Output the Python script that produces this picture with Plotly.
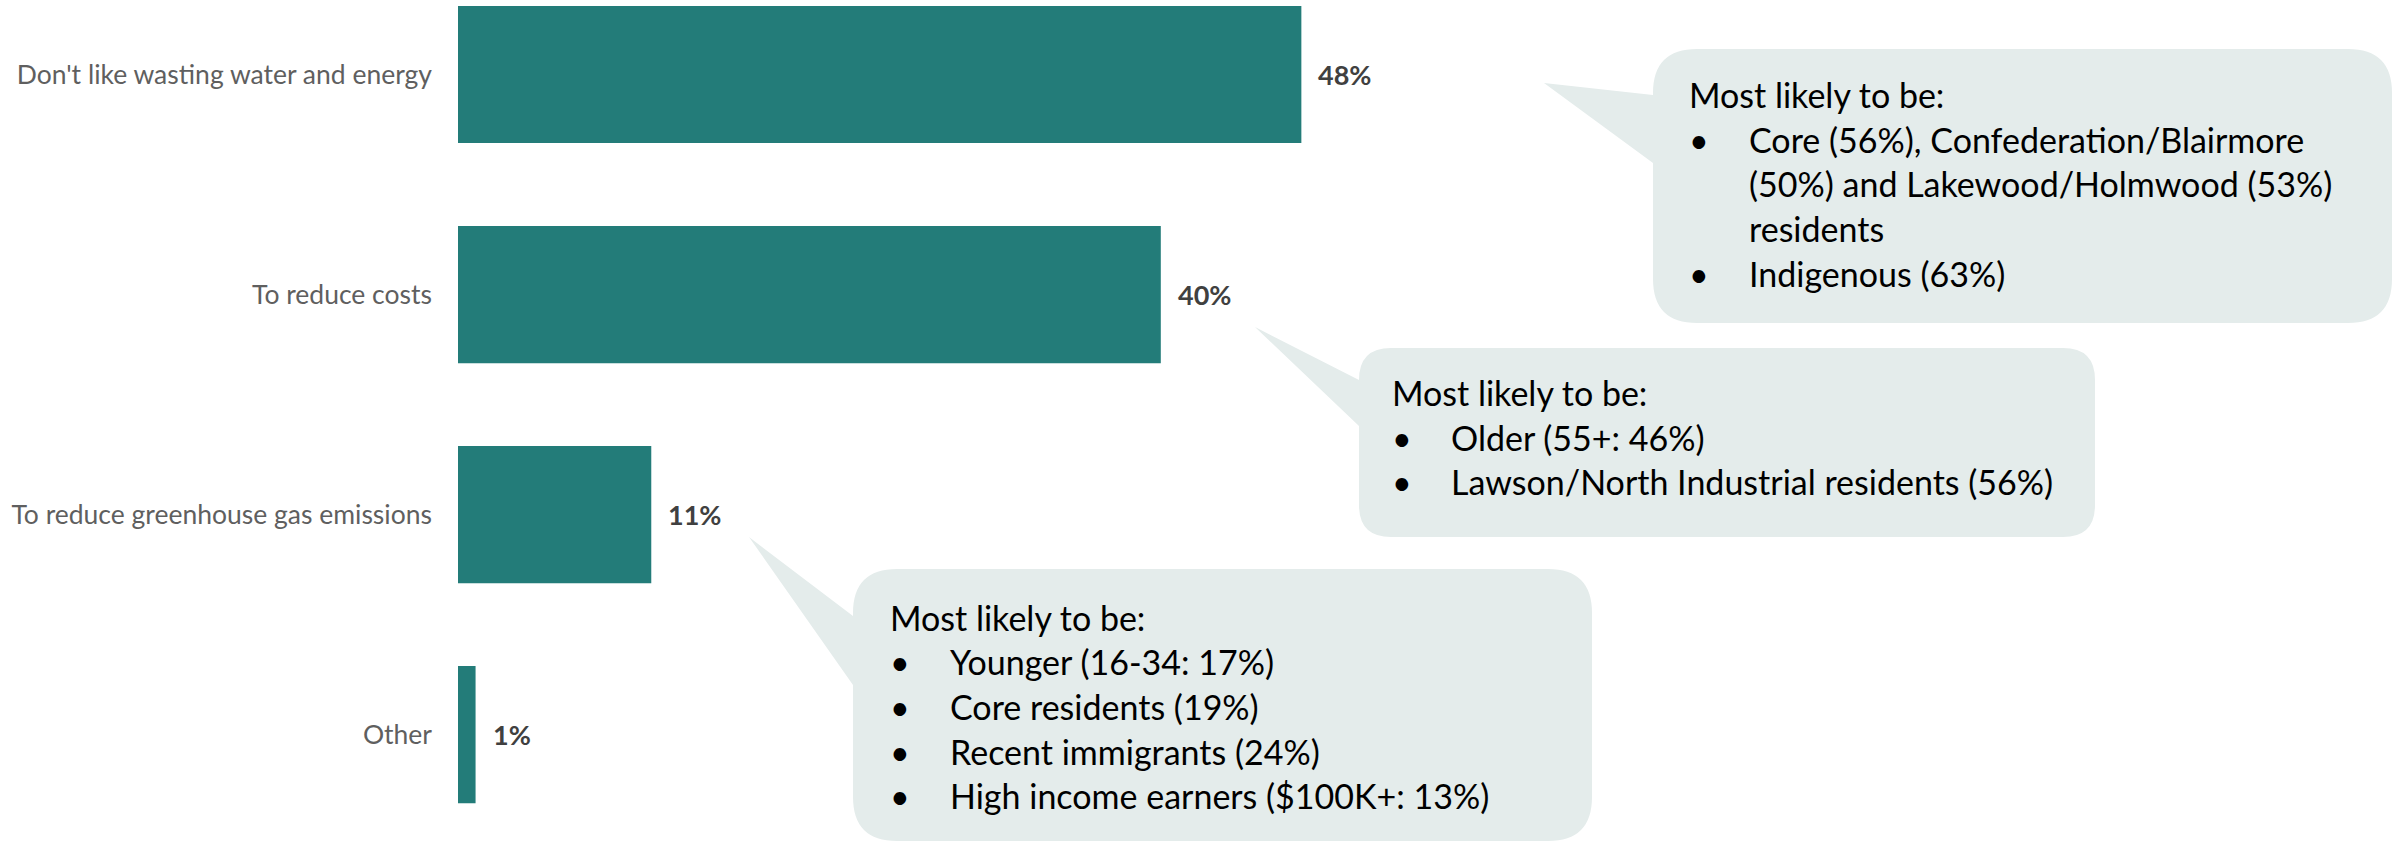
import plotly.graph_objects as go

# ---------------- data ----------------
categories = [
    "Don't like wasting water and energy",
    "To reduce costs",
    "To reduce greenhouse gas emissions",
    "Other",
]
values = [48, 40, 11, 1]
value_labels = ["48%", "40%", "11%", "1%"]

callout_heading = "Most likely to be:"
callout1_items = [
    ["Core (56%), Confederation/Blairmore", "(50%) and Lakewood/Holmwood (53%)", "residents"],
    ["Indigenous (63%)"],
]
callout2_items = [
    ["Older (55+: 46%)"],
    ["Lawson/North Industrial residents (56%)"],
]
callout3_items = [
    ["Younger (16-34: 17%)"],
    ["Core residents (19%)"],
    ["Recent immigrants (24%)"],
    ["High income earners ($100K+: 13%)"],
]

# ---------------- styling / layout ----------------
W, H = 2400, 842
PLOT_LEFT = 458
BAR_COLOR = "#237C79"
BUBBLE_COLOR = "#E4ECEB"
LABEL_COLOR = "#5F5F5F"
VALUE_COLOR = "#404040"
TEXT_FONT = "Lato"
LINE_STEP = 44.7


def px(x):
    return x / W


def py(y):
    return 1 - y / H


def bubble_path(box, tip, base, r):
    x0, y0, x1, y1 = box
    pts = []
    pts.append(f"M{px(x0 + r)},{py(y0)}")
    pts.append(f"L{px(x1 - r)},{py(y0)}")
    pts.append(f"Q{px(x1)},{py(y0)} {px(x1)},{py(y0 + r)}")
    pts.append(f"L{px(x1)},{py(y1 - r)}")
    pts.append(f"Q{px(x1)},{py(y1)} {px(x1 - r)},{py(y1)}")
    pts.append(f"L{px(x0 + r)},{py(y1)}")
    pts.append(f"Q{px(x0)},{py(y1)} {px(x0)},{py(y1 - r)}")
    pts.append(f"L{px(x0)},{py(base[1])}")
    pts.append(f"L{px(tip[0])},{py(tip[1])}")
    pts.append(f"L{px(x0)},{py(base[0])}")
    pts.append(f"L{px(x0)},{py(y0 + r)}")
    pts.append(f"Q{px(x0)},{py(y0)} {px(x0 + r)},{py(y0)}")
    pts.append("Z")
    return " ".join(pts)


callouts = [
    dict(box=(1653, 49, 2392, 323), tip=(1544, 83), base=(95, 163), r=44,
         text_x=1687, item_x=1747, first_y=94.5, items=callout1_items),
    dict(box=(1359, 348, 2095, 537), tip=(1255, 327), base=(380, 426), r=32,
         text_x=1390, item_x=1449, first_y=392.5, items=callout2_items),
    dict(box=(853, 569, 1592, 841), tip=(749, 537), base=(616, 685), r=44,
         text_x=888, item_x=948, first_y=617, items=callout3_items),
]

fig = go.Figure()
fig.add_trace(go.Bar(
    x=values,
    y=categories,
    orientation="h",
    marker=dict(color=BAR_COLOR, line=dict(width=0)),
    hoverinfo="skip",
))

annotations = []
for v, cat, lab in zip(values, categories, value_labels):
    annotations.append(dict(
        x=v, y=cat, xref="x", yref="y", text=lab, showarrow=False,
        xanchor="left", yanchor="middle", xshift=15,
        font=dict(family=TEXT_FONT, size=27, color=VALUE_COLOR, weight="bold"),
    ))

shapes = []
for c in callouts:
    shapes.append(dict(
        type="path", xref="paper", yref="paper",
        path=bubble_path(c["box"], c["tip"], c["base"], c["r"]),
        fillcolor=BUBBLE_COLOR, line=dict(width=0), layer="below",
    ))
    tfont = dict(family=TEXT_FONT, size=34, color="#000000")
    annotations.append(dict(
        x=px(c["text_x"]), y=py(c["first_y"]), xref="paper", yref="paper",
        text=callout_heading, showarrow=False, xanchor="left", yanchor="middle",
        font=tfont,
    ))
    line_i = 1
    for item in c["items"]:
        yy = c["first_y"] + line_i * LINE_STEP
        annotations.append(dict(
            x=px(c["text_x"]), y=py(yy), xref="paper", yref="paper",
            text="•", showarrow=False, xanchor="left", yanchor="middle",
            font=tfont,
        ))
        for ln in item:
            yy = c["first_y"] + line_i * LINE_STEP
            annotations.append(dict(
                x=px(c["item_x"]), y=py(yy), xref="paper", yref="paper",
                text=ln, showarrow=False, xanchor="left", yanchor="middle",
                font=tfont,
            ))
            line_i += 1

PX_PER_UNIT = 17.57
XMAX = (W - PLOT_LEFT) / PX_PER_UNIT

fig.update_layout(
    width=W, height=H,
    margin=dict(l=0, r=0, t=0, b=0),
    paper_bgcolor="white", plot_bgcolor="white",
    showlegend=False,
    bargap=0.377,
    xaxis=dict(domain=[PLOT_LEFT / W, 1], range=[0, XMAX], visible=False,
               showgrid=False, zeroline=False),
    yaxis=dict(type="category", categoryorder="array", categoryarray=categories,
               range=[3.488, -0.339], showgrid=False, zeroline=False, showline=False,
               ticks="", ticklabelstandoff=25,
               tickfont=dict(family=TEXT_FONT, size=26.5, color=LABEL_COLOR)),
    shapes=shapes,
    annotations=annotations,
)

fig.write_html(
    "out.html",
    config={"displayModeBar": False, "staticPlot": True},
    post_script="document.body.style.margin='0';document.body.style.overflow='hidden';",
)
